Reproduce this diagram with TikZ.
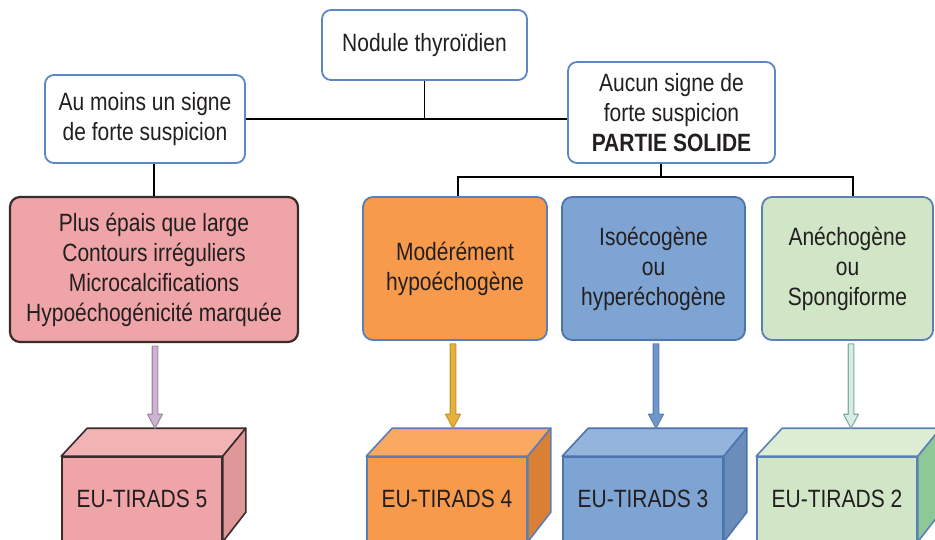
\documentclass[tikz,border=0pt]{standalone}
\usepackage{fontspec}
\setmainfont{Liberation Sans}[FakeStretch=0.84]
\usetikzlibrary{calc}
\definecolor{txt}{HTML}{231F20}
\definecolor{bluebd}{HTML}{5B87C5}
\definecolor{redfill}{HTML}{EFA4A7}
\definecolor{redtop}{HTML}{F2B3B5}
\definecolor{redside}{HTML}{E0979A}
\definecolor{redbd}{HTML}{3B2C2C}
\definecolor{orafill}{HTML}{F89A4B}
\definecolor{oratop}{HTML}{F9A962}
\definecolor{oraside}{HTML}{D98035}
\definecolor{orabd}{HTML}{5A7FB8}
\definecolor{blufill}{HTML}{7EA4D3}
\definecolor{blutop}{HTML}{94B4DC}
\definecolor{bluside}{HTML}{6A8DBC}
\definecolor{blubd}{HTML}{4C75AD}
\definecolor{grefill}{HTML}{D0E6C6}
\definecolor{gretop}{HTML}{DCEDD4}
\definecolor{greside}{HTML}{8FC897}
\definecolor{grebd}{HTML}{5B80B5}
\definecolor{arrRf}{HTML}{CFB3D3}
\definecolor{arrRd}{HTML}{A58AA8}
\definecolor{arrOf}{HTML}{E7B23C}
\definecolor{arrOd}{HTML}{C3962E}
\definecolor{arrBf}{HTML}{6F97CC}
\definecolor{arrBd}{HTML}{5A80B6}
\definecolor{arrGf}{HTML}{D8ECE2}
\definecolor{arrGd}{HTML}{7FAFA5}
\newcommand\cubefaces[4]{% node, top colour, side colour, border
  \filldraw[fill=#2,draw=#4,line width=1.6pt,line join=round]
    (#1.north west) -- ++(26,-28) -- ($(#1.north east)+(23,-28)$) -- (#1.north east) -- cycle;
  \filldraw[fill=#3,draw=#4,line width=1.6pt,line join=round]
    (#1.north east) -- ++(23,-28) -- ++(0,84) -- (#1.south east) -- cycle;}
\newcommand\blkarrow[5]{% from node, x coordinate, to node (cube), fill, draw
  \filldraw[fill=#4,draw=#5,line width=1.1pt,line join=round]
    ($(#2 |- #1.south)+(-2.8,3)$) -- ($(#2 |- #3.north)+(-2.8,-42)$) -- ($(#2 |- #3.north)+(-7.5,-42)$)
    -- ($(#2 |- #3.north)+(0,-28)$) -- ($(#2 |- #3.north)+(7.5,-42)$) -- ($(#2 |- #3.north)+(2.8,-42)$)
    -- ($(#2 |- #1.south)+(2.8,3)$) -- cycle;}
\begin{document}
\begin{tikzpicture}[x=1pt,y=-1pt,
  every node/.style={font=\fontsize{25}{30}\selectfont, text=txt, align=center, inner sep=0pt},
  topbox/.style={draw=bluebd, fill=white, line width=1.8pt, rounded corners=9pt},
  midbox/.style={line width=1.8pt, rounded corners=10pt, minimum height=143pt},
  cube/.style={line width=1.6pt, minimum width=160pt, minimum height=84pt},
  link/.style={draw=black, line width=1.8pt}]
\useasboundingbox (0,0) rectangle (935,539);
\clip (0,0) rectangle (935,539);
\fill[white] (0,0) rectangle (935,539);

% top boxes
\node[topbox, minimum width=205pt, minimum height=70pt] (nod) at (424.5,45) {Nodule thyroïdien};
\node[topbox, minimum width=200pt, minimum height=88pt] (sig) at (145,119) {Au moins un signe\\de forte suspicion};
\node[topbox, minimum width=207pt, minimum height=101pt] (auc) at (671.5,112.5) {Aucun signe de\\forte suspicion\\\textbf{PARTIE SOLIDE}};

% middle boxes
\node[midbox, draw=redbd, line width=2.2pt, fill=redfill, minimum width=288pt, minimum height=145pt] (red) at (154,269.5)
  {Plus épais que large\\Contours irréguliers\\Microcalcifications\\Hypoéchogénicité marquée};
\node[midbox, draw=orabd, fill=orafill, minimum width=184pt] (ora) at (455,268.5) {Modérément\\hypoéchogène};
\node[midbox, draw=blubd, fill=blufill, minimum width=183pt] (blu) at (653.5,268.5) {Isoécogène\\ou\\hyperéchogène};
\node[midbox, draw=grebd, fill=grefill, minimum width=171pt] (gre) at (847.5,268.5) {Anéchogène\\ou\\Spongiforme};

% connectors
\coordinate (jm) at (661,177);
\coordinate (jl) at (458,177);
\coordinate (jr) at (853,177);
\draw[link] (nod.south) -- (nod.south |- sig.east);
\draw[link] (sig.east) -- (sig.east -| auc.west);
\draw[link] (red.north |- sig.south) -- (red.north);
\draw[link] (jm |- auc.south) -- (jm);
\draw[link] (jl |- ora.north) -- (jl) -- (jr) -- (jr |- gre.north);

% cubes
\node[cube, draw=redbd, fill=redfill] (c5) at (142,499) {EU-TIRADS 5};
\cubefaces{c5}{redtop}{redside}{redbd}
\node[cube, draw=orabd, fill=orafill] (c4) at (447,499) {EU-TIRADS 4};
\cubefaces{c4}{oratop}{oraside}{orabd}
\node[cube, draw=blubd, fill=blufill] (c3) at (643,499) {EU-TIRADS 3};
\cubefaces{c3}{blutop}{bluside}{blubd}
\node[cube, draw=grebd, fill=grefill] (c2) at (837,499) {EU-TIRADS 2};
\cubefaces{c2}{gretop}{greside}{grebd}

% block arrows
\coordinate (x5) at (155,0);
\coordinate (x4) at (453,0);
\coordinate (x3) at (656,0);
\coordinate (x2) at (851,0);
\blkarrow{red}{x5}{c5}{arrRf}{arrRd}
\blkarrow{ora}{x4}{c4}{arrOf}{arrOd}
\blkarrow{blu}{x3}{c3}{arrBf}{arrBd}
\blkarrow{gre}{x2}{c2}{arrGf}{arrGd}
\end{tikzpicture}
\end{document}
